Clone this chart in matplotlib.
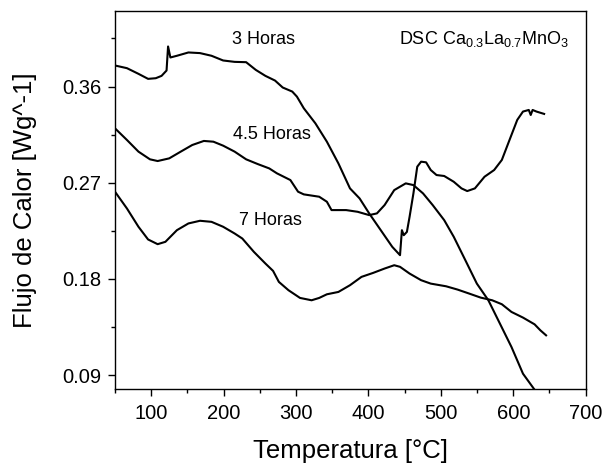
import matplotlib
matplotlib.use("Agg")
import matplotlib.pyplot as plt
from matplotlib.ticker import MultipleLocator

# DSC curves (temperature in degC, heat flow in W/g)
t_3h = [50, 66.5, 82.4, 95.7, 106.3, 114.3, 121.2, 123.3, 126.5, 135.5, 151.4, 167.4,
        183.3, 199.3, 215.2, 231.1, 244.4, 257.7, 271, 281.6, 294.8, 301.2, 310.7,
        326.7, 342.6, 358.5, 374.5, 387.8, 401, 417, 432.9, 443.6, 446.2, 448.8,
        453.1, 456.8, 462.1, 467.4, 472.7, 479.6, 486, 494, 504.6, 517.8, 528.5,
        536.4, 547, 560.3, 573.6, 584.2, 594.8, 605.5, 613.4, 621.4, 624.1, 626.7,
        632, 642.6]
q_3h = [0.3797, 0.3772, 0.3719, 0.3672, 0.3678, 0.370, 0.375, 0.3975, 0.3872, 0.3888,
        0.3919, 0.3913, 0.3888, 0.3844, 0.3831, 0.3828, 0.3756, 0.370, 0.3656, 0.3591,
        0.3553, 0.3506, 0.3397, 0.3256, 0.3084, 0.2881, 0.2647, 0.2553, 0.2413, 0.2256,
        0.210, 0.2022, 0.2256, 0.2209, 0.224, 0.2381, 0.260, 0.285, 0.2897, 0.2891,
        0.2819, 0.2772, 0.2763, 0.2709, 0.2647, 0.2622, 0.2647, 0.2756, 0.2819, 0.2913,
        0.310, 0.3288, 0.3366, 0.3381, 0.3334, 0.3381, 0.3366, 0.3344]

t_45h = [50, 66.5, 82.4, 98.3, 108.9, 124.9, 140.8, 156.7, 172.7, 185.9, 199.3, 215.2,
         231.1, 247, 263, 273.6, 292.2, 302.8, 310.7, 332, 342.6, 349, 355.9, 369.2,
         385.1, 401, 411.7, 422.3, 435.6, 451.5, 462.1, 475.4, 488.7, 504.6, 517.8,
         533.8, 549.7, 565.6, 581.6, 597.5, 613.4, 629.4]
q_45h = [0.3209, 0.310, 0.2991, 0.2919, 0.2903, 0.2928, 0.2991, 0.3053, 0.3091, 0.3084,
         0.3047, 0.2991, 0.2919, 0.2875, 0.2834, 0.2788, 0.2725, 0.2616, 0.2591, 0.2569,
         0.2522, 0.2444, 0.2444, 0.2444, 0.2428, 0.2397, 0.2413, 0.2491, 0.2631, 0.2694,
         0.2678, 0.260, 0.2491, 0.235, 0.2194, 0.1975, 0.1756, 0.160, 0.1381, 0.1163,
         0.0913, 0.0763]

t_7h = [50, 66.5, 82.4, 95.7, 108.9, 119.6, 135.5, 151.4, 167.4, 183.3, 199.3, 215.2,
        225.8, 241.8, 257.7, 268.3, 276.3, 289.6, 305.5, 321.5, 332, 342.6, 358.5,
        374.5, 390.4, 406.4, 422.3, 435.6, 443.6, 456.8, 472.7, 486, 507.2, 523.1,
        539, 555, 570.9, 584.2, 597.5, 613.4, 629.4, 637.4, 645.3]
q_7h = [0.2616, 0.2459, 0.2288, 0.2169, 0.2125, 0.2147, 0.2256, 0.2319, 0.2344, 0.2334,
        0.2288, 0.2225, 0.2178, 0.2053, 0.1944, 0.1875, 0.1772, 0.1694, 0.1622, 0.160,
        0.1622, 0.1656, 0.1678, 0.1741, 0.1819, 0.1856, 0.1897, 0.1928, 0.1913, 0.185,
        0.1788, 0.1756, 0.1731, 0.170, 0.1663, 0.1625, 0.160, 0.1563, 0.1491, 0.1438,
        0.1375, 0.1319, 0.1272]

plt.rcParams['font.family'] = ['Liberation Sans', 'DejaVu Sans']
plt.rcParams['mathtext.fontset'] = 'custom'
plt.rcParams['mathtext.rm'] = 'Liberation Sans'
plt.rcParams['mathtext.it'] = 'Liberation Sans'
plt.rcParams['mathtext.default'] = 'rm'

fig = plt.figure(figsize=(6.03, 4.66), dpi=100)
ax = fig.add_axes([0.1907, 0.1646, 0.7806, 0.8118])

for t, q in [(t_3h, q_3h), (t_45h, q_45h), (t_7h, q_7h)]:
    ax.plot(t, q, color='black', lw=1.5, solid_joinstyle='round')

ax.set_xlim(50, 700)
ax.set_ylim(0.0767, 0.4307)
ax.xaxis.set_major_locator(MultipleLocator(100))
ax.xaxis.set_minor_locator(MultipleLocator(50))
ax.set_yticks([0.09, 0.18, 0.27, 0.36])
ax.set_yticks([0.135, 0.225, 0.315, 0.405], minor=True)
ax.set_yticklabels(['0.09', '0.18', '0.27', '0.36'])
ax.tick_params(which='major', length=5.3, width=1, labelsize=14.5, pad=4.5, direction='out')
ax.tick_params(which='minor', length=2.8, width=1, direction='out')
ax.tick_params(axis='x', which='major', pad=5)
for s in ax.spines.values():
    s.set_linewidth(1)

ax.set_xlabel('Temperatura [°C]', fontsize=18.5, labelpad=12)
ax.set_ylabel('Flujo de Calor [Wg^-1]', fontsize=18.5, labelpad=18)

ax.text(211, 0.4044, '3 Horas', fontsize=13, va='center', ha='left')
ax.text(213, 0.3153, '4.5 Horas', fontsize=13, va='center', ha='left')
ax.text(221, 0.2344, '7 Horas', fontsize=13, va='center', ha='left')
ax.text(677, 0.4044, r'DSC Ca$_{0.3}$La$_{0.7}$MnO$_3$', fontsize=13,
        va='center', ha='right')

fig.savefig('out.png', dpi=100)
